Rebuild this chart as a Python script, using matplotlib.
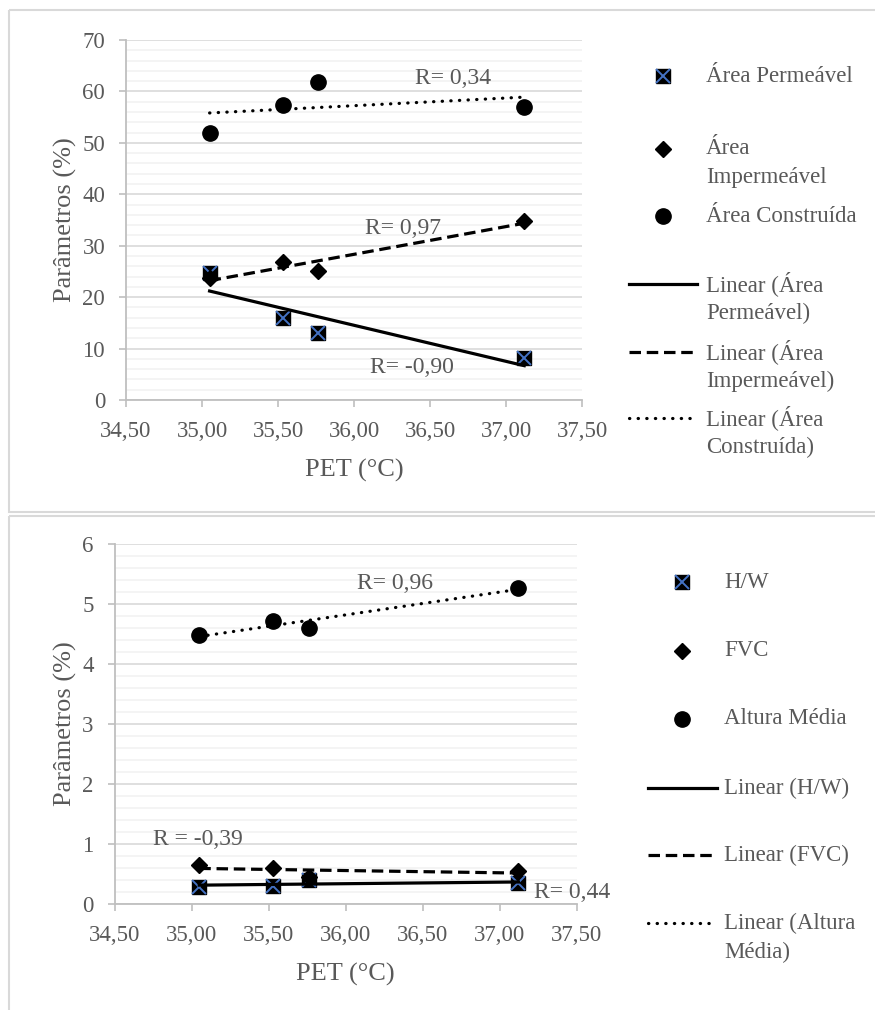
import matplotlib
matplotlib.use('Agg')
import matplotlib.pyplot as plt
from matplotlib.patches import Rectangle
from matplotlib.ticker import MultipleLocator, FuncFormatter
import numpy as np

plt.rcParams['font.family'] = ['Liberation Serif', 'DejaVu Serif']

# --- data ---
pet = [35.05, 35.53, 35.76, 37.12]

area_perm = [24.7, 16.0, 13.0, 8.2]
area_imperm = [23.7, 26.8, 25.1, 34.8]
area_constr = [51.9, 57.4, 61.8, 57.0]
top_labels = ['Área Permeável', 'Área Impermeável', 'Área Construída']
top_r = ['R= -0,90', 'R= 0,97', 'R= 0,34']

hw = [0.29, 0.30, 0.40, 0.35]
fvc = [0.65, 0.60, 0.45, 0.55]
altura = [4.48, 4.72, 4.60, 5.27]
bottom_labels = ['H/W', 'FVC', 'Altura Média']
bottom_r = ['R= 0,44', 'R = -0,39', 'R= 0,96']

x_ticks = [34.5, 35.0, 35.5, 36.0, 36.5, 37.0, 37.5]

GRAY = '#595959'
BLUE = '#4472C4'
W, H = 875, 1010
TREND_STYLES = ['-', (0, (3.6, 1.8)), (0, (0.1, 2.6))]

fig = plt.figure(figsize=(W / 100, H / 100), dpi=100)

# overlay in pixel space for panel frames and legends
lax = fig.add_axes([0, 0, 1, 1])
lax.set_xlim(0, W)
lax.set_ylim(H, 0)
lax.axis('off')
lax.add_patch(Rectangle((9, 10), 900, 502, fill=False, ec='#d9d9d9', lw=1.5))
lax.add_patch(Rectangle((9, 516), 900, 520, fill=False, ec='#d9d9d9', lw=1.5))


def px_axes(left, top, right, bottom):
    return fig.add_axes([left / W, 1 - bottom / H, (right - left) / W, (bottom - top) / H])


def style(ax, ymax, ystep, yminor):
    ax.set_xlim(34.5, 37.5)
    ax.set_ylim(0, ymax)
    ax.set_xticks(x_ticks)
    ax.xaxis.set_major_formatter(FuncFormatter(lambda v, p: f'{v:.2f}'.replace('.', ',')))
    ax.yaxis.set_major_locator(MultipleLocator(ystep))
    ax.yaxis.set_minor_locator(MultipleLocator(yminor))
    ax.grid(True, which='minor', axis='y', color='#f2f2f2', lw=1.2)
    ax.grid(True, which='major', axis='y', color='#d9d9d9', lw=1.2)
    ax.set_axisbelow(True)
    for s in ['top', 'right']:
        ax.spines[s].set_visible(False)
    for s in ['left', 'bottom']:
        ax.spines[s].set_color('#bfbfbf')
        ax.spines[s].set_linewidth(1.3)
    ax.tick_params(which='major', length=5, width=1.2, color='#bfbfbf',
                   labelcolor=GRAY, labelsize=16.5)
    ax.tick_params(axis='x', pad=10)
    ax.tick_params(axis='y', pad=10)
    ax.tick_params(which='minor', length=0)
    ax.set_xlabel('PET (°C)', color=GRAY, fontsize=19, labelpad=12)
    ax.set_ylabel('Parâmetros (%)', color=GRAY, fontsize=19, labelpad=4)


def draw_series(ax, series):
    a, b, c = series
    ax.plot(pet, a, 's', color='black', ms=10, zorder=3)
    ax.plot(pet, a, 'x', color=BLUE, ms=10, mew=1.4, zorder=3)
    ax.plot(pet, b, 'D', color='black', ms=8, zorder=4)
    ax.plot(pet, c, 'o', color='black', ms=11, zorder=4)
    xs = np.array([min(pet), max(pet)])
    for i, ys in enumerate(series):
        k, m = np.polyfit(pet, ys, 1)
        ax.plot(xs, k * xs + m, color='black', lw=2.3, ls=TREND_STYLES[i],
                dash_capstyle='round' if i == 2 else 'butt', zorder=5)


ax1 = px_axes(126, 40, 582, 400)
style(ax1, 70, 10, 2)
draw_series(ax1, [area_perm, area_imperm, area_constr])
ax1.text(36.38, 6.4, top_r[0], color=GRAY, fontsize=17, ha='center', va='center')
ax1.text(36.32, 33.4, top_r[1], color=GRAY, fontsize=17, ha='center', va='center')
ax1.text(36.65, 62.6, top_r[2], color=GRAY, fontsize=17, ha='center', va='center')

ax2 = px_axes(114.5, 544, 577, 904)
style(ax2, 6, 1, 0.2)
draw_series(ax2, [hw, fvc, altura])
ax2.text(37.22, 0.2, bottom_r[0], color=GRAY, fontsize=17, ha='left', va='center')
ax2.text(35.04, 1.07, bottom_r[1], color=GRAY, fontsize=17, ha='center', va='center')
ax2.text(36.32, 5.35, bottom_r[2], color=GRAY, fontsize=17, ha='center', va='center')


def legend(mx, lx0, lx1, tx, rows, labels):
    names = labels + [f'Linear ({n})' for n in labels]
    wrapped = {
        'Área Impermeável': ['Área', 'Impermeável'],
        'Linear (Área Permeável)': ['Linear (Área', 'Permeável)'],
        'Linear (Área Impermeável)': ['Linear (Área', 'Impermeável)'],
        'Linear (Área Construída)': ['Linear (Área', 'Construída)'],
        'Linear (Altura Média)': ['Linear (Altura', 'Média)'],
    }
    for i, (y, name) in enumerate(zip(rows, names)):
        if i == 0:
            lax.plot([mx], [y], 's', color='black', ms=10)
            lax.plot([mx], [y], 'x', color=BLUE, ms=10, mew=1.4)
        elif i == 1:
            lax.plot([mx], [y], 'D', color='black', ms=8)
        elif i == 2:
            lax.plot([mx], [y], 'o', color='black', ms=11)
        else:
            lax.plot([lx0, lx1], [y, y], color='black', lw=2.3, ls=TREND_STYLES[i - 3],
                     dash_capstyle='round' if i == 5 else 'butt')
        for j, line in enumerate(wrapped.get(name, [name])):
            lax.text(tx, y + j * 29, line, color=GRAY, fontsize=16.5,
                     ha='left', va='center')


legend(663, 629, 697, 706, [76, 149, 216, 284, 352, 418], top_labels)
legend(682, 648, 717, 724, [582, 651, 719, 788, 855, 923], bottom_labels)

plt.savefig('out.png', dpi=100, facecolor='white')
